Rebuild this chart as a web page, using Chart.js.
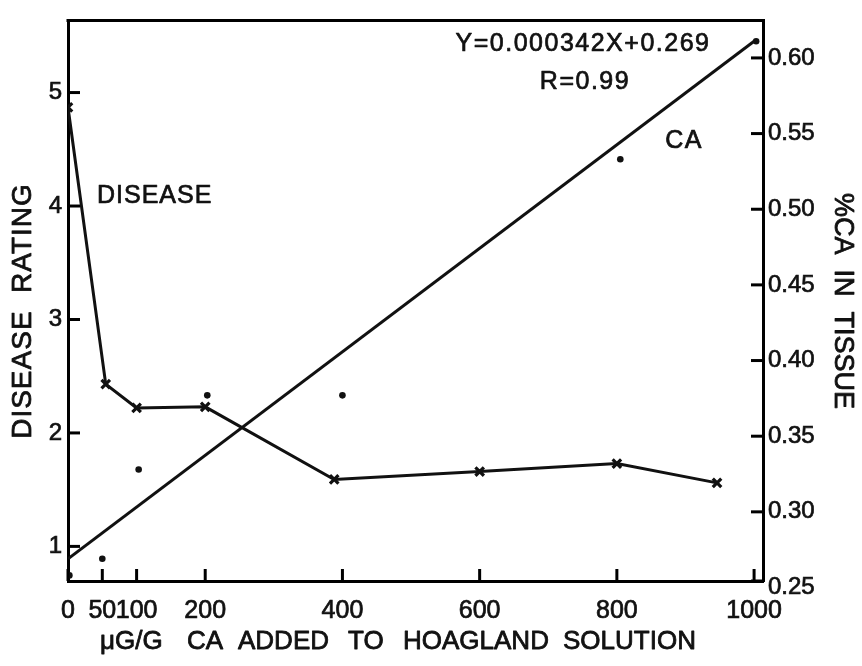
<!DOCTYPE html>
<html>
<head>
<meta charset="utf-8">
<script src="https://cdn.jsdelivr.net/npm/chart.js@4"></script>
<style>
html,body{margin:0;padding:0;background:#fff;}
#wrap{width:862px;height:666px;position:relative;}
</style>
</head>
<body>
<div id="wrap"><canvas id="c"></canvas></div>
<script>
// ---- data ----
const xTicks = [0, 50, 100, 200, 400, 600, 800, 1000];
const diseaseTicks = [1, 2, 3, 4, 5];
const caTicks = [0.25, 0.30, 0.35, 0.40, 0.45, 0.50, 0.55, 0.60];

const diseaseX = [0, 55, 100, 200, 388, 600, 800, 946];
const diseaseY = [4.87, 2.43, 2.22, 2.23, 1.59, 1.66, 1.73, 1.56];

const caX = [2, 50, 103, 203, 400, 805, 1003];
const caY = [0.258, 0.269, 0.328, 0.377, 0.377, 0.533, 0.611];

const fitX = [0, 1000];
const fitY = [0.269, 0.611];

const xTitleWords = ['\u03bcG/G', 'CA', 'ADDED', 'TO', 'HOAGLAND', 'SOLUTION'];

const FONT = '"Liberation Sans", Arial, sans-serif';
const INK = '#111';

const toPts = (xs, ys) => xs.map((x, i) => ({x: x, y: ys[i]}));

function txt(ctx, s, x, y, w) {
  ctx.lineWidth = w;
  ctx.strokeText(s, x, y);
  ctx.fillText(s, x, y);
}

const framePlugin = {
  id: 'framePlugin',
  afterDraw(chart) {
    const ctx = chart.ctx, a = chart.chartArea;
    const sx = chart.scales.x, sy = chart.scales.y, sy1 = chart.scales.y1;
    ctx.save();
    ctx.strokeStyle = '#000';
    ctx.lineWidth = 3;
    ctx.lineCap = 'butt';
    const seg = (x1, y1, x2, y2) => { ctx.beginPath(); ctx.moveTo(x1, y1); ctx.lineTo(x2, y2); ctx.stroke(); };
    seg(a.left - 1.5, a.top, a.right + 1.5, a.top);
    const L = 12;
    for (const v of xTicks) { const p = sx.getPixelForValue(v); seg(p, a.bottom, p, a.bottom - L); }
    for (const v of diseaseTicks) { const p = sy.getPixelForValue(v); seg(a.left, p, a.left + L, p); }
    for (const v of caTicks) { const p = Math.min(sy1.getPixelForValue(v), a.bottom); seg(a.right, p, a.right - L, p); }

    ctx.fillStyle = INK;
    ctx.strokeStyle = INK;
    ctx.lineJoin = 'round';
    ctx.textBaseline = 'middle';
    ctx.textAlign = 'center';
    ctx.font = '25px ' + FONT;
    ctx.letterSpacing = '1.5px';
    txt(ctx, 'Y=0.000342X+0.269', 583, 44, 0.7);
    txt(ctx, 'R=0.99', 585, 82, 0.7);
    txt(ctx, 'CA', 684, 141, 0.7);
    ctx.textAlign = 'left';
    ctx.letterSpacing = '1px';
    txt(ctx, 'DISEASE', 97, 196, 0.7);

    // x axis title, word by word
    ctx.font = '26px ' + FONT;
    ctx.letterSpacing = '0px';
    const starts = [100, 187, 238, 348, 403, 563];
    xTitleWords.forEach((w, i) => txt(ctx, w, starts[i], 642, 0.8));

    ctx.textAlign = 'center';
    ctx.save();
    ctx.translate(23, 311);
    ctx.rotate(-Math.PI / 2);
    ctx.font = '28px ' + FONT;
    ctx.letterSpacing = '1px';
    txt(ctx, 'DISEASE  RATING', 0, 0, 0.8);
    ctx.restore();

    ctx.save();
    ctx.translate(842, 301);
    ctx.rotate(Math.PI / 2);
    ctx.font = '27px ' + FONT;
    ctx.letterSpacing = '0px';
    txt(ctx, '%CA  IN  TISSUE', 0, 0, 0.8);
    ctx.restore();
    ctx.restore();
  }
};

new Chart(document.getElementById('c'), {
  type: 'scatter',
  data: {
    datasets: [
      {
        label: 'Disease',
        data: toPts(diseaseX, diseaseY),
        yAxisID: 'y',
        showLine: true,
        borderColor: INK,
        backgroundColor: INK,
        borderWidth: 3,
        pointStyle: 'crossRot',
        pointRadius: 6,
        pointBorderWidth: 3.2
      },
      {
        label: 'CA',
        data: toPts(caX, caY),
        yAxisID: 'y1',
        showLine: false,
        borderColor: INK,
        backgroundColor: INK,
        pointStyle: 'circle',
        pointRadius: 3.3,
        pointBorderWidth: 0
      },
      {
        label: 'Fit',
        data: toPts(fitX, fitY),
        yAxisID: 'y1',
        showLine: true,
        borderColor: INK,
        borderWidth: 3,
        pointRadius: 0
      }
    ]
  },
  options: {
    responsive: true,
    maintainAspectRatio: false,
    animation: false,
    layout: {padding: {top: 14, left: 0, right: 0, bottom: 0}},
    plugins: {legend: {display: false}, tooltip: {enabled: false}},
    scales: {
      x: {
        type: 'linear',
        min: 0, max: 1013,
        afterBuildTicks: s => { s.ticks = xTicks.map(v => ({value: v})); },
        afterFit: s => { s.height = 85; },
        grid: {drawOnChartArea: false, drawTicks: false},
        border: {display: true, color: '#000', width: 3},
        ticks: {color: INK, textStrokeColor: INK, textStrokeWidth: 0.7, font: {family: FONT, size: 25}, padding: 15,
                maxRotation: 0, autoSkip: false, callback: v => String(v)}
      },
      y: {
        type: 'linear', position: 'left',
        min: 0.695, max: 5.636,
        afterBuildTicks: s => { s.ticks = diseaseTicks.map(v => ({value: v})); },
        afterFit: s => { s.width = 68; },
        grid: {drawOnChartArea: false, drawTicks: false},
        border: {display: true, color: '#000', width: 3},
        ticks: {color: INK, textStrokeColor: INK, textStrokeWidth: 0.7, font: {family: FONT, size: 24}, padding: 6,
                callback: v => String(v)}
      },
      y1: {
        type: 'linear', position: 'right',
        min: 0.2543, max: 0.6248,
        afterBuildTicks: s => { s.ticks = caTicks.map(v => ({value: v})); },
        afterFit: s => { s.width = 99; },
        grid: {drawOnChartArea: false, drawTicks: false},
        border: {display: true, color: '#000', width: 3},
        ticks: {color: INK, textStrokeColor: INK, textStrokeWidth: 0.7, font: {family: FONT, size: 24}, padding: 5,
                callback: v => Number(v).toFixed(2)}
      }
    }
  },
  plugins: [framePlugin]
});
</script>
</body>
</html>
